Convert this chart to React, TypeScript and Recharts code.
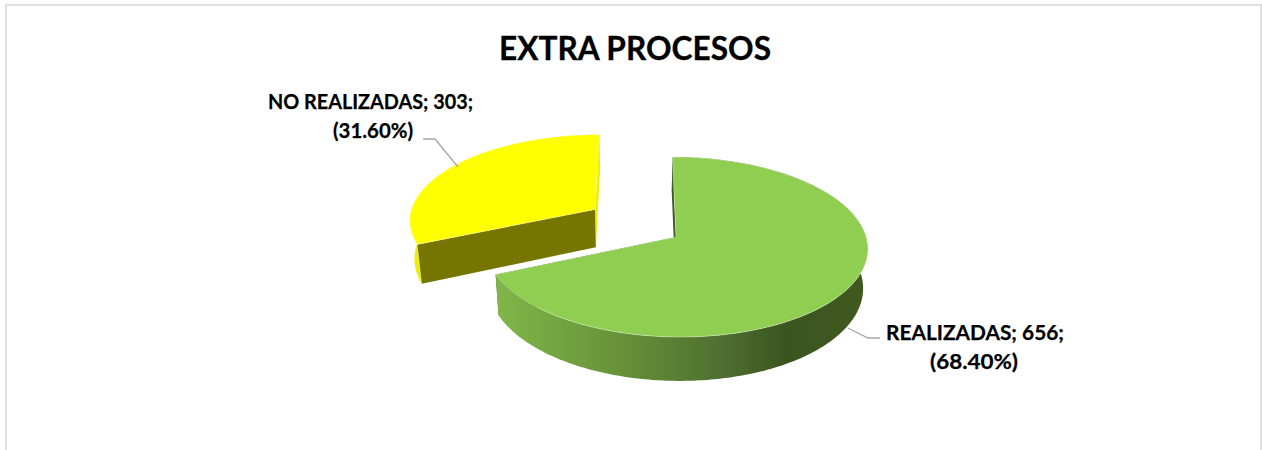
import { Pie, PieChart } from "recharts";

const categories = ["REALIZADAS", "NO REALIZADAS"];
const values = [656, 303];
const chartData = categories.map((name, i) => ({ name, value: values[i] }));
const total = values.reduce((a, b) => a + b, 0);

const font = "Lato, Carlito, sans-serif";

// fake perspective used to tilt the pie
const tilt = 0.468;
const persp = 0.111;
const depth = 39;
const vanishX = 640;
const depthShrink = 0.98;

// how far each slice is pulled out, in radii (sideways, backwards)
const explode = [
  [0, 0],
  [-0.435, 0.32],
];
const topColor = ["#8fce50", "#ffff00"];
const rimFill = ["url(#rimGreen)", "#eded10"];
const startCutColor = ["#3f5a24", "#757500"];
const endCutColor = ["#3f5a24", "#eded10"];

function project(cx: number, cy: number, r: number, u: number, v: number) {
  const w = 1 + persp * v;
  return { x: vanishX + (cx - vanishX + r * u) / w, y: cy - (r * tilt * v) / w, w };
}

function Slice3D(props: any) {
  const { cx, cy, outerRadius, startAngle, endAngle, name } = props;
  const idx = categories.indexOf(name);
  const [ou, ov] = explode[idx];

  const pt = (deg: number) => {
    const t = ((90 - deg) * Math.PI) / 180;
    return project(cx, cy, outerRadius, ou + Math.sin(t), ov + Math.cos(t));
  };
  const rim: { x: number; y: number; w: number }[] = [];
  const steps = Math.ceil(Math.abs(endAngle - startAngle));
  for (let i = 0; i <= steps; i++) {
    rim.push(pt(startAngle + ((endAngle - startAngle) * i) / steps));
  }
  const apex = project(cx, cy, outerRadius, ou, ov);
  const down = (p: { x: number; y: number; w: number }) => ({
    x: vanishX + (p.x - vanishX) * depthShrink,
    y: p.y + depth / p.w,
  });
  const d = (pts: { x: number; y: number }[]) =>
    pts.map((p, i) => `${i ? "L" : "M"}${p.x.toFixed(2)} ${p.y.toFixed(2)}`).join(" ") + " Z";

  const first = rim[0];
  const last = rim[rim.length - 1];
  const startCut = <path d={d([apex, first, down(first), down(apex)])} fill={startCutColor[idx]} />;
  const endCut = <path d={d([apex, last, down(last), down(apex)])} fill={endCutColor[idx]} />;
  // a cut face only shows when it turns towards the viewer
  const sinOf = (deg: number) => Math.sin(((90 - deg) * Math.PI) / 180);
  const startShows = sinOf(startAngle) < -0.01;
  const endShows = sinOf(endAngle) > 0.01;
  return (
    <g>
      <defs>
        <linearGradient id="rimGreen" gradientUnits="userSpaceOnUse" x1={cx - 176} y1="0" x2={cx + 191} y2="0">
          <stop offset="0%" stopColor="#80b548" />
          <stop offset="30%" stopColor="#699539" />
          <stop offset="60%" stopColor="#4e7030" />
          <stop offset="78%" stopColor="#3b5520" />
          <stop offset="100%" stopColor="#40591f" />
        </linearGradient>
      </defs>
      {!endShows && endCut}
      <path d={d([...rim, ...rim.map(down).reverse()])} fill={rimFill[idx]} />
      {!startShows && startCut}
      {startShows && startCut}
      {endShows && endCut}
      <path d={d([apex, ...rim])} fill={topColor[idx]} stroke="#ffffff" strokeOpacity={0.5} strokeWidth={0.7} />
    </g>
  );
}

const labelLayout = [
  { x: 975, x2: 974, y: 340, w1: 178, w2: 88, line: "M848 328 L868 338 L880 338" },
  { x: 370.5, x2: 373, y: 109, w1: 205, w2: 80, line: "M423 139 L435 139 L458 167" },
];

function sliceLabel(props: any) {
  const idx = categories.indexOf(props.name);
  const l = labelLayout[idx];
  const pct = ((values[idx] / total) * 100).toFixed(2);
  return (
    <g key={props.name}>
      <path d={l.line} fill="none" stroke="#a6a6a6" strokeWidth={1.3} />
      <text x={l.x} y={l.y} textAnchor="middle" fontFamily={font} fontWeight={700} fontSize={20.5} fill="#000000" stroke="#000000" strokeWidth={0.25}>
        <tspan x={l.x} textLength={l.w1} lengthAdjust="spacingAndGlyphs">{`${categories[idx]}; ${values[idx]};`}</tspan>
        <tspan x={l.x2} dy={29} textLength={l.w2} lengthAdjust="spacingAndGlyphs">{`(${pct}%)`}</tspan>
      </text>
    </g>
  );
}

export default function App() {
  return (
    <div style={{ position: "absolute", left: 0, top: 0, width: 1262, height: 450, background: "#fff", overflow: "hidden" }}>
      <div
        style={{
          position: "absolute",
          left: 5,
          top: 4,
          width: 1253,
          height: 446,
          borderLeft: "2px solid #e0e0e0",
          borderTop: "2px solid #e0e0e0",
          borderRight: "2px solid #e0e0e0",
        }}
      />
      <div style={{ position: "absolute", left: 0, top: 0 }}>
        <PieChart width={1262} height={450} margin={{ top: 0, right: 0, bottom: 0, left: 0 }}>
          <text x={635} y={60} textAnchor="middle" fontFamily={font} fontWeight={700} fontSize={33} textLength={272} lengthAdjust="spacingAndGlyphs" fill="#000000" stroke="#000000" strokeWidth={0.3}>
            EXTRA PROCESOS
          </text>
          <Pie
            data={chartData}
            dataKey="value"
            nameKey="name"
            cx={676}
            cy={237}
            outerRadius={190}
            startAngle={90}
            endAngle={-270}
            stroke="none"
            shape={(props: any) => <Slice3D {...props} />}
            label={sliceLabel}
            labelLine={false}
            isAnimationActive={false}
          />
        </PieChart>
      </div>
    </div>
  );
}
